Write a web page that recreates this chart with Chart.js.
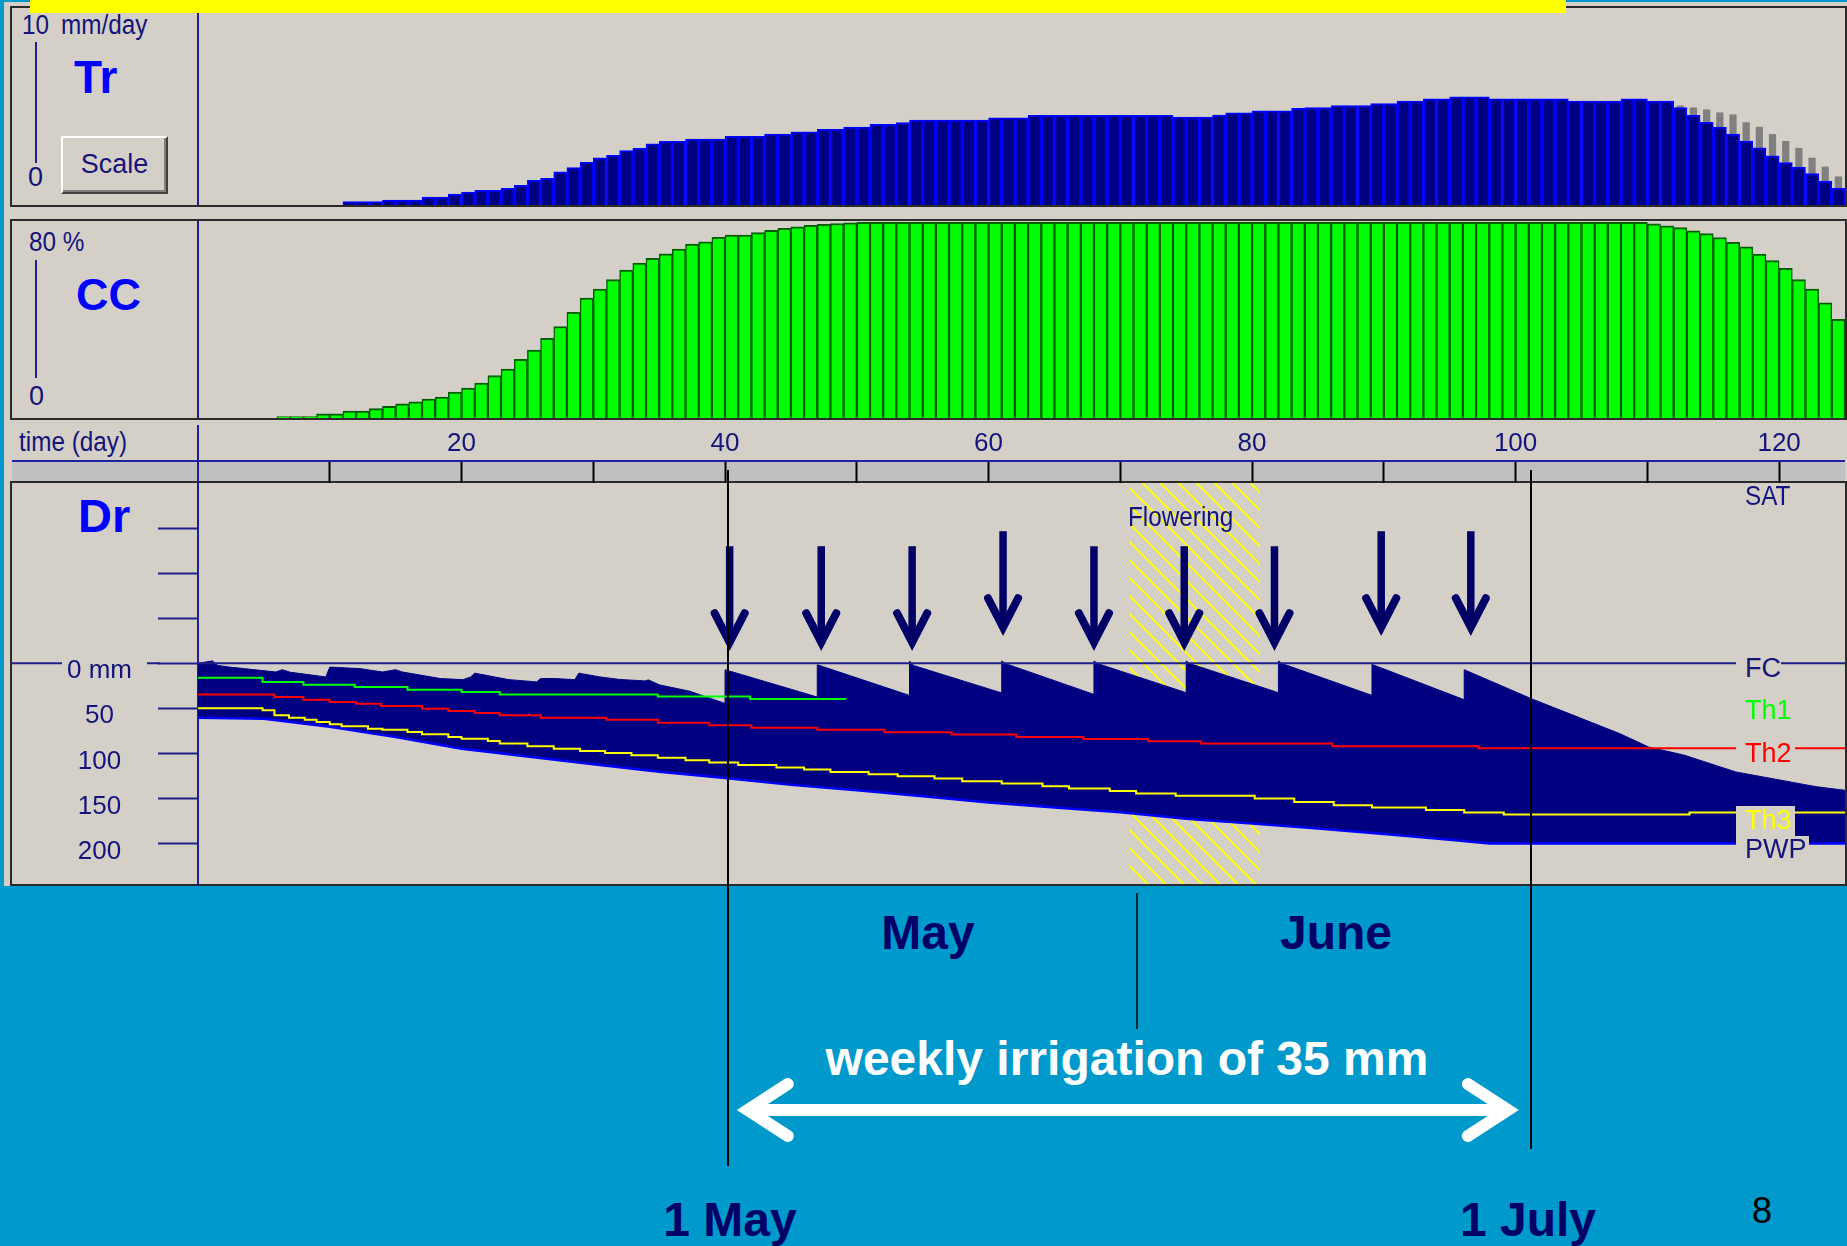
<!DOCTYPE html>
<html>
<head>
<meta charset="utf-8">
<script src="https://cdn.jsdelivr.net/npm/chart.js@4.4.1/dist/chart.umd.min.js"></script>
<style>
  body { margin: 0; width: 1847px; height: 1246px; overflow: hidden; background: #0099cc; position: relative; }
  .abs { position: absolute; }
  .frame { position: absolute; box-sizing: border-box; border: 2px solid #2b2b2b; }
  .t { position: absolute; white-space: pre; line-height: 1; }
  .ui { font-family: 'Liberation Sans Narrow', 'Liberation Sans', Arial, sans-serif; font-size: 27px; color: #14147a; }
  .nar { transform: scaleX(0.9); transform-origin: left top; }
  .big { font-family: 'Liberation Sans', Arial, sans-serif; font-weight: bold; color: #0000ff; }
  .slide { font-family: 'Liberation Sans', Arial, sans-serif; font-weight: bold; font-size: 48px; color: #000066; text-align: center; width: 300px; }
  .navyline { position: absolute; background: #20208a; }
  .lbl { position: absolute; background: #d4d0c8; box-sizing: border-box; padding-left: 9px; line-height: 1; z-index: 2; }
  canvas { position: absolute; }
</style>
</head>
<body>
<!-- window background -->
<div class="abs" style="left:4px;top:2px;width:1843px;height:884px;background:#d4d0c8"></div>

<!-- panel frames -->
<div class="frame" style="left:10px;top:6px;width:1837px;height:201px"></div>
<div class="frame" style="left:10px;top:219px;width:1837px;height:201px"></div>
<div class="abs" style="left:12px;top:460px;width:1833px;height:21px;background:#c0c0c0;border-top:2px solid #2020a0;box-sizing:border-box"></div>
<div class="frame" style="left:10px;top:481px;width:1837px;height:405px"></div>

<!-- dividers and small axis bars -->
<div class="navyline" style="left:197px;top:8px;width:2px;height:197px"></div>
<div class="navyline" style="left:197px;top:221px;width:2px;height:197px"></div>
<div class="navyline" style="left:197px;top:425px;width:2px;height:58px"></div>
<div class="navyline" style="left:35px;top:42px;width:2px;height:121px"></div>
<div class="navyline" style="left:35px;top:260px;width:2px;height:118px"></div>

<!-- left labels -->
<div class="t ui nar" style="left:22px;top:12px">10</div>
<div class="t ui nar" style="left:61px;top:12px">mm/day</div>
<div class="t big" style="left:74px;top:54px;font-size:46px">Tr</div>
<div class="t ui" style="left:28px;top:164px">0</div>
<div class="abs" style="left:61px;top:136px;width:107px;height:58px;box-sizing:border-box;background:#d4d0c8;border-top:2px solid #fff;border-left:2px solid #fff;border-right:2px solid #404040;border-bottom:2px solid #404040;box-shadow:inset -2px -2px 0 #808080"></div>
<div class="t ui" style="left:61px;top:151px;width:107px;text-align:center">Scale</div>

<div class="t ui nar" style="left:29px;top:229px">80 %</div>
<div class="t big" style="left:76px;top:272px;font-size:45px">CC</div>
<div class="t ui" style="left:29px;top:383px">0</div>

<div class="t ui nar" style="left:19px;top:429px">time (day)</div>
<div class="t big" style="left:78px;top:492px;font-size:47px">Dr</div>

<canvas id="trChart" width="1647" height="197" style="left:198px;top:8px"></canvas>
<canvas id="ccChart" width="1647" height="197" style="left:198px;top:221px"></canvas>
<canvas id="drChart" width="1847" height="1246" style="left:0;top:0;z-index:1;pointer-events:none"></canvas>

<!-- right side labels of the Dr panel -->
<div class="t ui nar" style="left:1128px;top:504px;z-index:2">Flowering</div>
<div class="t ui nar" style="left:1745px;top:483px;z-index:2">SAT</div>
<div class="lbl ui" style="left:1736px;top:652px;width:45px;height:32px;padding-top:3px">FC</div>
<div class="t ui" style="left:1745px;top:697px;z-index:2;color:#00ff00">Th1</div>
<div class="lbl ui" style="left:1736px;top:737px;width:59px;height:32px;padding-top:3px;color:#ff0000">Th2</div>
<div class="lbl ui" style="left:1736px;top:806px;width:59px;height:30px;padding-top:1px;color:#ffff00">Th3</div>
<div class="lbl ui" style="left:1736px;top:836px;width:73px;height:30px">PWP</div>

<!-- slide annotations -->
<div class="t slide" style="left:778px;top:909px">May</div>
<div class="t slide" style="left:1186px;top:909px">June</div>
<div class="t slide" style="left:777px;top:1035px;width:700px;color:#ffffff">weekly irrigation of 35 mm</div>
<div class="t slide" style="left:580px;top:1196px">1 May</div>
<div class="t slide" style="left:1378px;top:1196px">1 July</div>
<div class="t" style="left:1752px;top:1193px;font-family:'Liberation Sans',Arial,sans-serif;font-size:36px;color:#000">8</div>

<div class="abs" style="left:30px;top:0;width:1536px;height:13px;background:#ffff00;z-index:3"></div>

<script>
// days of the season (one bar per day)
const dayLabels = Array.from({ length: 125 }, (_, i) => i + 1);

// Tr - crop transpiration (mm/day)
const trActual = [
    0, 0, 0, 0, 0, 0, 0, 0, 0, 0,
    0, 0.17, 0.17, 0.17, 0.25, 0.25, 0.25, 0.4, 0.4, 0.55,
    0.65, 0.75, 0.75, 0.85, 1.0, 1.25, 1.35, 1.68, 1.9, 2.16,
    2.39, 2.52, 2.76, 2.88, 3.11, 3.23, 3.23, 3.35, 3.35, 3.35,
    3.48, 3.48, 3.48, 3.6, 3.6, 3.72, 3.72, 3.84, 3.84, 3.95,
    3.95, 4.09, 4.09, 4.19, 4.31, 4.31, 4.31, 4.31, 4.31, 4.31,
    4.43, 4.43, 4.43, 4.55, 4.55, 4.55, 4.55, 4.55, 4.55, 4.55,
    4.55, 4.55, 4.55, 4.55, 4.46, 4.46, 4.46, 4.56, 4.68, 4.68,
    4.78, 4.78, 4.78, 4.91, 4.95, 4.95, 5.05, 5.05, 5.05, 5.15,
    5.15, 5.27, 5.27, 5.39, 5.39, 5.49, 5.49, 5.49, 5.39, 5.39,
    5.39, 5.39, 5.39, 5.39, 5.27, 5.27, 5.27, 5.27, 5.39, 5.39,
    5.27, 5.27, 4.95, 4.55, 4.2, 3.95, 3.6, 3.25, 2.9, 2.5,
    2.15, 1.93, 1.6, 1.2, 0.85
];
// potential transpiration shown in grey at the end of the season
const trPotentialFrom = 112;
const trPotential = [5.05, 4.95, 4.85, 4.7, 4.6, 4.2, 3.97, 3.6, 3.25, 2.9, 2.4, 1.95, 1.45];

// CC - canopy cover (%)
const canopyCover = [
    0, 0, 0, 0, 0, 0, 0.6, 0.6, 0.6, 1.7,
    1.7, 2.8, 2.8, 3.8, 4.7, 5.8, 6.6, 7.7, 8.5, 10.5,
    12.2, 14.2, 17.2, 19.9, 23.8, 27.6, 32.4, 37.1, 42.9, 48.7,
    52.4, 56.2, 60.1, 62.9, 64.8, 66.7, 68.6, 70.6, 71.5, 73.4,
    74.3, 74.3, 75.3, 76.2, 77.0, 77.6, 78.2, 78.6, 79.0, 79.3,
    79.5, 79.5, 79.5, 79.5, 79.5, 79.5, 79.5, 79.5, 79.5, 79.5,
    79.5, 79.5, 79.5, 79.5, 79.5, 79.5, 79.5, 79.5, 79.5, 79.5,
    79.5, 79.5, 79.5, 79.5, 79.5, 79.5, 79.5, 79.5, 79.5, 79.5,
    79.5, 79.5, 79.5, 79.5, 79.5, 79.5, 79.5, 79.5, 79.5, 79.5,
    79.5, 79.5, 79.5, 79.5, 79.5, 79.5, 79.5, 79.5, 79.5, 79.5,
    79.5, 79.5, 79.5, 79.5, 79.5, 79.5, 79.5, 79.5, 79.5, 79.5,
    78.9, 78, 77.3, 76, 74.9, 73.3, 71.3, 69.5, 66.6, 63.9,
    60.8, 56.2, 52.4, 46.8, 40.1
];

// Dr - root zone depletion (mm below field capacity), weekly irrigation from day 40
const drDays = [0, 1.1, 1.5, 2.4, 4.8, 5.9, 6.4, 7, 8.2, 9.7, 10, 12.3, 14, 15, 15.5, 18.4, 20.1, 20.7, 21, 23.6,
    25.7, 26, 27.1, 28.6, 28.9, 30.5, 32, 33.9, 34.2, 35, 37.3, 40, 40, 47, 47, 54, 54, 54.3, 61, 61,
    61.3, 68, 68, 68.3, 75, 75, 75.3, 82, 82, 82.3, 89.1, 89.1, 96.1, 96.1, 101.2, 107.9, 110.1, 112.8, 116.7, 122.8, 125];
const drValues = [0, -2.5, 2.5, 4.3, 8, 9.7, 7.2, 10, 12.3, 15.2, 4.3, 6, 9.7, 7.2, 9.7, 17, 18.2, 15.2, 11, 18.2,
    20.7, 17, 17, 18.2, 11, 15.2, 18, 19.6, 18.5, 24, 31, 44.6, 7.2, 37.5, 1.7, 35.7, -2.5, 2.5, 33, -2.5,
    0.5, 34.6, -2.5, 0.5, 32.7, -2.5, 0.5, 32.7, -2.5, 0.5, 35.7, 1.3, 40.5, 7.2, 39.4, 78.1, 93, 102, 120.6, 137, 141];

// PWP - total available water in the root zone
const pwpDays = [0, 5, 10, 15, 20, 25, 30, 35, 40, 45, 50, 55, 60, 65, 70, 75, 80, 85, 90, 95, 98, 125];
const pwpValues = [60.4, 61.5, 70.5, 82, 95, 103.5, 112, 120.5, 127.5, 135, 141, 147.5, 154.5, 160, 165.5, 172.5, 178, 183.5, 189.5, 196, 200, 200];

// thresholds
const th1Days = [0, 4.9, 8, 11.9, 15.9, 20, 22.9, 34.9, 41.9, 49.2];
const th1Values = [16, 20.9, 23.8, 26.5, 29.4, 32, 34.6, 36.8, 39.8, 39.8];
const th2Days = [0, 5.8, 8, 10, 12, 13.9, 17, 19, 21, 22.9, 26, 31, 34.9, 38.8, 42, 47, 52.1, 57.2, 62.1, 67.2, 72.1, 76.1, 86.1, 97.2, 125];
const th2Values = [34.6, 37.5, 40.4, 43.1, 45, 47.5, 50.5, 53, 55.3, 57.8, 60.4, 62.6, 66, 68.9, 71.5, 73.7, 76.7, 79.2, 81.9, 84.1, 86.6, 89.2, 92.2, 94.4, 94.4];
const th3Days = [0, 4.9, 5.8, 6.9, 8.1, 9, 10, 10.9, 12.9, 14, 15.9, 17, 19, 20, 22, 22.9, 25, 27, 29, 30.9,
    32.9, 34.9, 37, 38.8, 41, 43.9, 46, 48, 50.9, 53.1, 55.9, 58, 61, 64.1, 66.1, 69.2, 71.2, 74.2, 80.2, 83.2,
    86.2, 89.1, 93.2, 96.1, 99.1, 113.2, 125];
const th3Values = [50, 52.3, 57.8, 60.4, 62.6, 65.2, 67.8, 70, 72.6, 73.7, 76.3, 78.9, 81.9, 83.7, 86.3, 89.2, 92.2, 94.8, 97.4, 99.6,
    102, 104.8, 107.7, 110.3, 112.9, 115.8, 118, 120.6, 123.2, 125.4, 128, 131, 133.5, 136.5, 139, 141.7, 144.6, 147.2, 150.1, 154,
    157.6, 160, 163, 165.7, 167.9, 165.7, 165.7];

// axes
const timeTicks = [10, 20, 30, 40, 50, 60, 70, 80, 90, 100, 110, 120];
const timeLabels = [20, 40, 60, 80, 100, 120];
const drTicks = [-150, -100, -50, 0, 50, 100, 150, 200];

// annotations (days)
const irrigationArrows = [40.35, 47.3, 54.2, 61.1, 68.0, 74.85, 81.7, 89.8, 96.6];
const floweringStart = 70.7, floweringEnd = 80.6;
const irrigationSpan = [40.74, 100.4];

// styling only
const arrowLift = [0, 0, 0, 15, 0, 0, 0, 15, 15];
const dateLines = [
    { day: 40.2, top: 470, bottom: 1166, width: 2 },
    { day: 71.3, top: 893, bottom: 1029, width: 1.5 },
    { day: 101.2, top: 470, bottom: 1149, width: 2 }
];
const NAVY = '#14147a';
const uiFont = { family: "'Liberation Sans Narrow', 'Liberation Sans', Arial, sans-serif", size: 26 };

const pts = (xs, ys) => xs.map((x, i) => ({ x: x, y: ys[i] }));

function barOptions(maxY) {
    return {
        responsive: false,
        animation: false,
        layout: { padding: 0 },
        plugins: { legend: { display: false }, tooltip: { enabled: false } },
        scales: {
            x: { display: false },
            y: { display: false, min: 0, max: maxY }
        }
    };
}

new Chart(document.getElementById('trChart'), {
    type: 'bar',
    data: {
        labels: dayLabels,
        datasets: [{
            data: trActual,
            backgroundColor: '#000080',
            borderColor: '#0000ff',
            borderWidth: { top: 2, left: 2, right: 2, bottom: 0 },
            barPercentage: 1, categoryPercentage: 1,
            grouped: false, order: 1
        }, {
            data: dayLabels.map((d, i) => i >= trPotentialFrom ? trPotential[i - trPotentialFrom] : null),
            backgroundColor: '#808080',
            borderWidth: 0,
            barPercentage: 0.55, categoryPercentage: 1,
            grouped: false, order: 2
        }]
    },
    options: barOptions(10)
});

new Chart(document.getElementById('ccChart'), {
    type: 'bar',
    data: {
        labels: dayLabels,
        datasets: [{
            data: canopyCover,
            backgroundColor: '#00ff00',
            borderColor: '#006000',
            borderWidth: { top: 2, left: 1.5, right: 1.5, bottom: 0 },
            barPercentage: 1, categoryPercentage: 1
        }]
    },
    options: barOptions(80)
});

// hatch, FC line, irrigation arrows and slide annotations
const drDecor = {
    id: 'drDecor',
    beforeDatasetsDraw(chart) {
        const { ctx, chartArea: a, scales: { x } } = chart;
        const x1 = x.getPixelForValue(floweringStart), x2 = x.getPixelForValue(floweringEnd);
        const h = a.bottom - a.top;
        ctx.save();
        ctx.beginPath();
        ctx.rect(x1, a.top, x2 - x1, h);
        ctx.clip();
        ctx.strokeStyle = '#ffff00';
        ctx.lineWidth = 2;
        for (let sx = x1 - h; sx < x2 + 20; sx += 18) {
            ctx.beginPath();
            ctx.moveTo(sx, a.top);
            ctx.lineTo(sx + h, a.bottom);
            ctx.stroke();
        }
        ctx.restore();
    },
    afterDatasetsDraw(chart) {
        const { ctx, chartArea: a, scales: { x, y } } = chart;
        const y0 = y.getPixelForValue(0);
        ctx.save();
        ctx.strokeStyle = '#20208a';
        ctx.lineWidth = 2;
        ctx.beginPath();
        ctx.moveTo(a.left, y0);
        ctx.lineTo(a.right, y0);
        ctx.stroke();

        ctx.strokeStyle = '#000066';
        irrigationArrows.forEach((d, i) => {
            const px = x.getPixelForValue(d);
            const tip = y0 - 13 - arrowLift[i];
            ctx.lineWidth = 7.5;
            ctx.lineCap = 'butt';
            ctx.beginPath();
            ctx.moveTo(px, tip - 104);
            ctx.lineTo(px, tip - 8);
            ctx.stroke();
            ctx.lineWidth = 8;
            ctx.lineCap = 'round';
            ctx.lineJoin = 'miter';
            ctx.beginPath();
            ctx.moveTo(px - 15, tip - 37);
            ctx.lineTo(px, tip - 8);
            ctx.lineTo(px + 15, tip - 37);
            ctx.stroke();
        });
        ctx.restore();
    },
    afterDraw(chart) {
        const { ctx, scales: { x, y } } = chart;
        const y0 = y.getPixelForValue(0);
        ctx.save();
        // 0 mm reference line through the label area
        ctx.strokeStyle = '#20208a';
        ctx.lineWidth = 2;
        ctx.beginPath();
        ctx.moveTo(12, y0); ctx.lineTo(62, y0);
        ctx.moveTo(147, y0); ctx.lineTo(160, y0);
        ctx.stroke();

        // date lines
        ctx.strokeStyle = '#000000';
        dateLines.forEach(l => {
            const px = Math.round(x.getPixelForValue(l.day));
            ctx.lineWidth = l.width;
            ctx.beginPath();
            ctx.moveTo(px, l.top);
            ctx.lineTo(px, l.bottom);
            ctx.stroke();
        });

        // white double arrow for the irrigation period
        const ax1 = x.getPixelForValue(irrigationSpan[0]) + 13;
        const ax2 = x.getPixelForValue(irrigationSpan[1]) - 13;
        const ay = 1110;
        ctx.strokeStyle = '#ffffff';
        ctx.lineWidth = 12;
        ctx.lineCap = 'butt';
        ctx.beginPath();
        ctx.moveTo(ax1, ay); ctx.lineTo(ax2, ay);
        ctx.stroke();
        ctx.lineCap = 'round';
        ctx.lineJoin = 'miter';
        ctx.beginPath();
        ctx.moveTo(ax1 + 40, ay - 26); ctx.lineTo(ax1, ay); ctx.lineTo(ax1 + 40, ay + 26);
        ctx.moveTo(ax2 - 40, ay - 26); ctx.lineTo(ax2, ay); ctx.lineTo(ax2 - 40, ay + 26);
        ctx.stroke();
        ctx.restore();
    }
};

new Chart(document.getElementById('drChart'), {
    type: 'line',
    data: {
        datasets: [
            { label: 'Dr', data: pts(drDays, drValues), borderColor: '#000080', borderWidth: 1,
              backgroundColor: '#000080', fill: '+1', pointRadius: 0, tension: 0, order: 10 },
            { label: 'PWP', data: pts(pwpDays, pwpValues), borderColor: '#0000ff', borderWidth: 2.5,
              fill: false, pointRadius: 0, tension: 0, order: 5 },
            { label: 'Th1', data: pts(th1Days, th1Values), borderColor: '#00ff00', borderWidth: 2,
              stepped: 'before', fill: false, pointRadius: 0, order: 3 },
            { label: 'Th2', data: pts(th2Days, th2Values), borderColor: '#ff0000', borderWidth: 2,
              stepped: 'before', fill: false, pointRadius: 0, order: 2 },
            { label: 'Th3', data: pts(th3Days, th3Values), borderColor: '#ffff00', borderWidth: 2,
              stepped: 'before', fill: false, pointRadius: 0, order: 1 }
        ]
    },
    options: {
        responsive: false,
        animation: false,
        layout: { padding: { left: 12, top: 423, right: 2, bottom: 362 } },
        plugins: { legend: { display: false }, tooltip: { enabled: false } },
        scales: {
            x: {
                type: 'linear',
                position: 'top',
                min: 0,
                max: 125,
                afterFit: s => { s.height = 60; },
                afterBuildTicks: s => { s.ticks = timeTicks.map(v => ({ value: v })); },
                ticks: {
                    autoSkip: false, maxRotation: 0, padding: 3,
                    color: NAVY, font: uiFont,
                    callback: v => timeLabels.includes(v) ? String(v) : ''
                },
                grid: { drawOnChartArea: false, drawTicks: true, tickLength: 21, tickColor: '#000000', tickWidth: 2 },
                border: { display: false }
            },
            y: {
                type: 'linear',
                reverse: true,
                min: -200,
                max: 245,
                afterFit: s => { s.width = 186; },
                afterBuildTicks: s => { s.ticks = drTicks.map(v => ({ value: v })); },
                ticks: {
                    crossAlign: 'center', padding: 26, labelOffset: 8,
                    color: NAVY, font: uiFont,
                    callback: v => v === 0 ? '0 mm' : (v > 0 ? String(v) : '')
                },
                grid: { drawOnChartArea: false, drawTicks: true, tickLength: 40, tickColor: '#20208a', tickWidth: 2 },
                border: { display: true, color: '#20208a', width: 2 }
            }
        }
    },
    plugins: [drDecor]
});
</script>
</body>
</html>
